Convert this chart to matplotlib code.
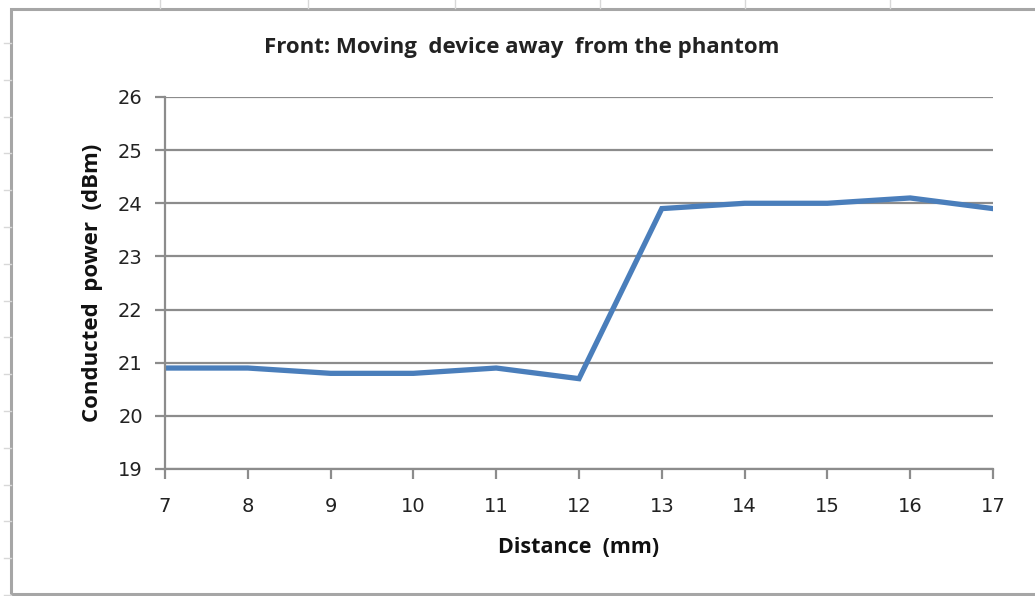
import matplotlib.pyplot as plt
from matplotlib.lines import Line2D
from matplotlib.patches import Rectangle

# data
distance = [7, 8, 9, 10, 11, 12, 13, 14, 15, 16, 17]
power = [20.9, 20.9, 20.8, 20.8, 20.9, 20.7, 23.9, 24.0, 24.0, 24.1, 23.9]
y_ticks = [19, 20, 21, 22, 23, 24, 25, 26]

W, H = 1035, 596
fig = plt.figure(figsize=(W / 100, H / 100), dpi=100)
fig.patch.set_facecolor('white')

# spreadsheet cells behind the chart
for x in [160, 308, 455, 600, 745, 890]:
    fig.add_artist(Line2D([x / W, x / W], [1, 1 - 8 / H], color='#d8d8d8', lw=1))
y = 43
while y < H:
    fig.add_artist(Line2D([4 / W, 11 / W], [1 - y / H, 1 - y / H], color='#d8d8d8', lw=1))
    y += 36.8

# chart frame
fig.add_artist(Rectangle((11 / W, 1 - 594 / H), 1.2, (594 - 9) / H, fill=False,
                         edgecolor='#a6a6a6', lw=2.2, transform=fig.transFigure))

ax = fig.add_axes([165 / W, 1 - 469 / H, (993 - 165) / W, (469 - 97) / H])
ax.plot(distance, power, color='#4a7ebb', lw=3.8, solid_joinstyle='miter')

ax.set_xlim(7, 17)
ax.set_ylim(19, 26)
ax.set_xticks(distance)
ax.set_yticks(y_ticks)
ax.grid(axis='y', color='#8c8c8c', lw=1.6)
ax.set_axisbelow(True)
for s in ['top', 'right']:
    ax.spines[s].set_visible(False)
for s in ['left', 'bottom']:
    ax.spines[s].set_color('#8c8c8c')
    ax.spines[s].set_linewidth(1.6)
ax.tick_params(axis='both', direction='out', length=7, width=1.6, color='#8c8c8c',
               labelsize=14, labelcolor='#222222')
ax.tick_params(axis='x', pad=13)
ax.tick_params(axis='y', pad=9)

fig.text(522 / W, 1 - 48 / H, 'Front: Moving  device away  from the phantom',
         ha='center', va='center', fontsize=16, fontweight='bold', color='#222222',
         family='Open Sans')
ax.set_xlabel('Distance  (mm)', fontsize=15.5, fontweight='bold', color='#111111',
              family='Open Sans', labelpad=15)
ax.set_ylabel('Conducted  power  (dBm)', fontsize=16, fontweight='bold', color='#111111',
              family='Open Sans', labelpad=11)

fig.savefig('out.png', dpi=100)
